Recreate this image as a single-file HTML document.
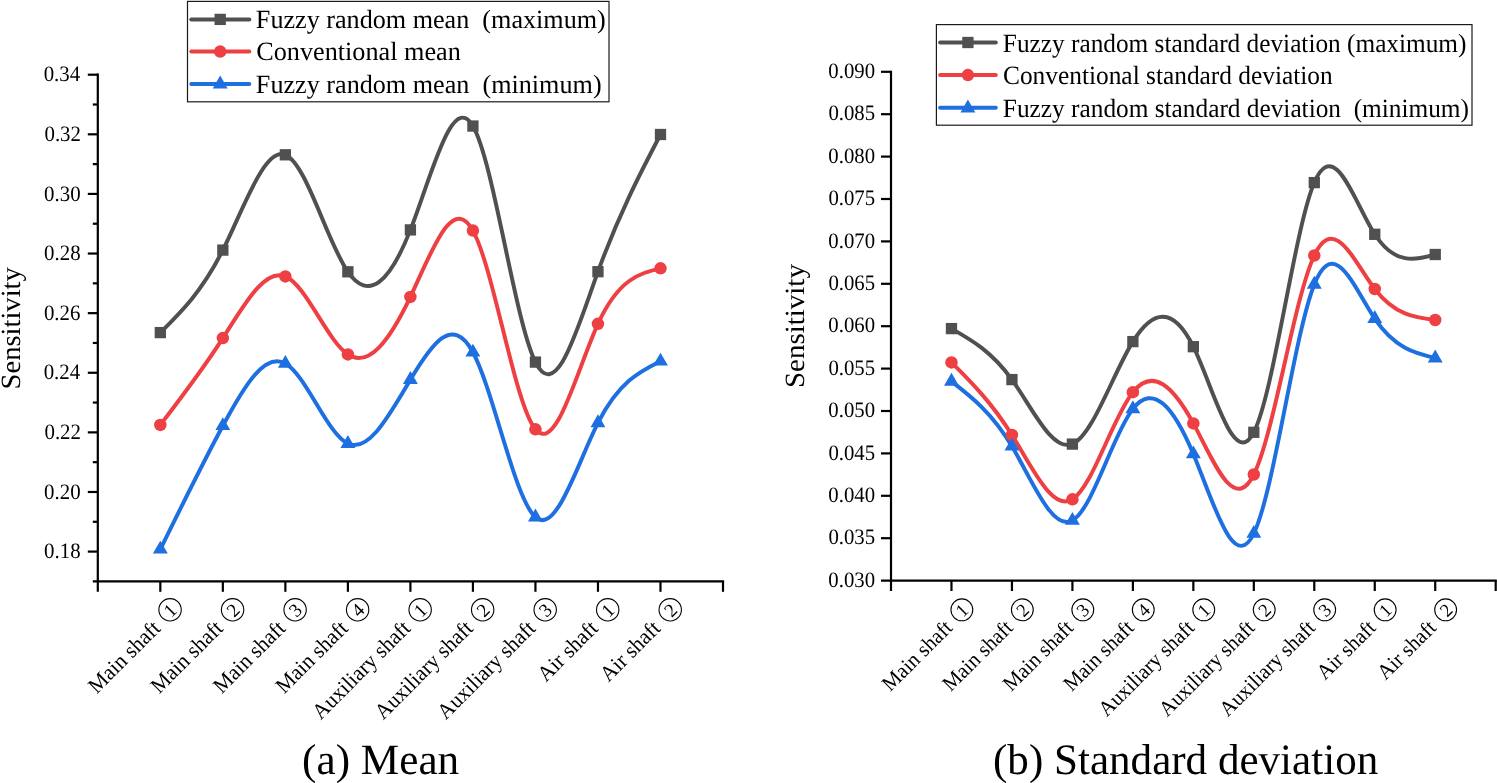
<!DOCTYPE html>
<html><head><meta charset="utf-8"><style>
html,body{margin:0;padding:0;background:#fff;overflow:hidden;}
svg{display:block;will-change:transform;}
text{font-family:"Liberation Serif",serif;fill:#000;font-kerning:none;text-rendering:geometricPrecision;}

</style></head><body>
<svg width="1497" height="783" viewBox="0 0 1497 783">
<line x1="97.80" y1="73.60" x2="97.80" y2="591.80" stroke="#000" stroke-width="2.2"/>
<line x1="92.80" y1="581.40" x2="724.10" y2="581.40" stroke="#000" stroke-width="2.2"/>
<line x1="160.32" y1="581.40" x2="160.32" y2="591.80" stroke="#000" stroke-width="2.2"/>
<line x1="222.84" y1="581.40" x2="222.84" y2="591.80" stroke="#000" stroke-width="2.2"/>
<line x1="285.36" y1="581.40" x2="285.36" y2="591.80" stroke="#000" stroke-width="2.2"/>
<line x1="347.88" y1="581.40" x2="347.88" y2="591.80" stroke="#000" stroke-width="2.2"/>
<line x1="410.40" y1="581.40" x2="410.40" y2="591.80" stroke="#000" stroke-width="2.2"/>
<line x1="472.92" y1="581.40" x2="472.92" y2="591.80" stroke="#000" stroke-width="2.2"/>
<line x1="535.44" y1="581.40" x2="535.44" y2="591.80" stroke="#000" stroke-width="2.2"/>
<line x1="597.96" y1="581.40" x2="597.96" y2="591.80" stroke="#000" stroke-width="2.2"/>
<line x1="660.48" y1="581.40" x2="660.48" y2="591.80" stroke="#000" stroke-width="2.2"/>
<line x1="723.00" y1="581.40" x2="723.00" y2="591.80" stroke="#000" stroke-width="2.2"/>
<line x1="87.80" y1="551.59" x2="97.80" y2="551.59" stroke="#000" stroke-width="2.2"/>
<line x1="87.80" y1="491.98" x2="97.80" y2="491.98" stroke="#000" stroke-width="2.2"/>
<line x1="87.80" y1="432.37" x2="97.80" y2="432.37" stroke="#000" stroke-width="2.2"/>
<line x1="87.80" y1="372.76" x2="97.80" y2="372.76" stroke="#000" stroke-width="2.2"/>
<line x1="87.80" y1="313.15" x2="97.80" y2="313.15" stroke="#000" stroke-width="2.2"/>
<line x1="87.80" y1="253.54" x2="97.80" y2="253.54" stroke="#000" stroke-width="2.2"/>
<line x1="87.80" y1="193.92" x2="97.80" y2="193.92" stroke="#000" stroke-width="2.2"/>
<line x1="87.80" y1="134.31" x2="97.80" y2="134.31" stroke="#000" stroke-width="2.2"/>
<line x1="87.80" y1="74.70" x2="97.80" y2="74.70" stroke="#000" stroke-width="2.2"/>
<line x1="92.80" y1="521.79" x2="97.80" y2="521.79" stroke="#000" stroke-width="2.2"/>
<line x1="92.80" y1="462.18" x2="97.80" y2="462.18" stroke="#000" stroke-width="2.2"/>
<line x1="92.80" y1="402.56" x2="97.80" y2="402.56" stroke="#000" stroke-width="2.2"/>
<line x1="92.80" y1="342.95" x2="97.80" y2="342.95" stroke="#000" stroke-width="2.2"/>
<line x1="92.80" y1="283.34" x2="97.80" y2="283.34" stroke="#000" stroke-width="2.2"/>
<line x1="92.80" y1="223.73" x2="97.80" y2="223.73" stroke="#000" stroke-width="2.2"/>
<line x1="92.80" y1="164.12" x2="97.80" y2="164.12" stroke="#000" stroke-width="2.2"/>
<line x1="92.80" y1="104.51" x2="97.80" y2="104.51" stroke="#000" stroke-width="2.2"/>
<line x1="891.00" y1="70.70" x2="891.00" y2="591.00" stroke="#000" stroke-width="2.2"/>
<line x1="881.00" y1="580.60" x2="1496.80" y2="580.60" stroke="#000" stroke-width="2.2"/>
<line x1="951.47" y1="580.60" x2="951.47" y2="591.00" stroke="#000" stroke-width="2.2"/>
<line x1="1011.94" y1="580.60" x2="1011.94" y2="591.00" stroke="#000" stroke-width="2.2"/>
<line x1="1072.41" y1="580.60" x2="1072.41" y2="591.00" stroke="#000" stroke-width="2.2"/>
<line x1="1132.88" y1="580.60" x2="1132.88" y2="591.00" stroke="#000" stroke-width="2.2"/>
<line x1="1193.35" y1="580.60" x2="1193.35" y2="591.00" stroke="#000" stroke-width="2.2"/>
<line x1="1253.82" y1="580.60" x2="1253.82" y2="591.00" stroke="#000" stroke-width="2.2"/>
<line x1="1314.29" y1="580.60" x2="1314.29" y2="591.00" stroke="#000" stroke-width="2.2"/>
<line x1="1374.76" y1="580.60" x2="1374.76" y2="591.00" stroke="#000" stroke-width="2.2"/>
<line x1="1435.23" y1="580.60" x2="1435.23" y2="591.00" stroke="#000" stroke-width="2.2"/>
<line x1="1495.70" y1="580.60" x2="1495.70" y2="591.00" stroke="#000" stroke-width="2.2"/>
<line x1="881.00" y1="538.20" x2="891.00" y2="538.20" stroke="#000" stroke-width="2.2"/>
<line x1="881.00" y1="495.80" x2="891.00" y2="495.80" stroke="#000" stroke-width="2.2"/>
<line x1="881.00" y1="453.40" x2="891.00" y2="453.40" stroke="#000" stroke-width="2.2"/>
<line x1="881.00" y1="411.00" x2="891.00" y2="411.00" stroke="#000" stroke-width="2.2"/>
<line x1="881.00" y1="368.60" x2="891.00" y2="368.60" stroke="#000" stroke-width="2.2"/>
<line x1="881.00" y1="326.20" x2="891.00" y2="326.20" stroke="#000" stroke-width="2.2"/>
<line x1="881.00" y1="283.80" x2="891.00" y2="283.80" stroke="#000" stroke-width="2.2"/>
<line x1="881.00" y1="241.40" x2="891.00" y2="241.40" stroke="#000" stroke-width="2.2"/>
<line x1="881.00" y1="199.00" x2="891.00" y2="199.00" stroke="#000" stroke-width="2.2"/>
<line x1="881.00" y1="156.60" x2="891.00" y2="156.60" stroke="#000" stroke-width="2.2"/>
<line x1="881.00" y1="114.20" x2="891.00" y2="114.20" stroke="#000" stroke-width="2.2"/>
<line x1="881.00" y1="71.80" x2="891.00" y2="71.80" stroke="#000" stroke-width="2.2"/>
<text transform="translate(44.10,558.22) scale(0.9480,1)" font-size="22">0.18</text>
<text transform="translate(44.10,498.61) scale(0.9480,1)" font-size="22">0.20</text>
<text transform="translate(44.45,439.00) scale(0.9480,1)" font-size="22">0.22</text>
<text transform="translate(43.63,379.39) scale(0.9480,1)" font-size="22">0.24</text>
<text transform="translate(43.92,319.78) scale(0.9480,1)" font-size="22">0.26</text>
<text transform="translate(44.10,260.17) scale(0.9480,1)" font-size="22">0.28</text>
<text transform="translate(44.10,200.55) scale(0.9480,1)" font-size="22">0.30</text>
<text transform="translate(44.45,140.94) scale(0.9480,1)" font-size="22">0.32</text>
<text transform="translate(43.63,81.33) scale(0.9480,1)" font-size="22">0.34</text>
<text transform="translate(828.36,586.73) scale(0.9420,1)" font-size="22">0.030</text>
<text transform="translate(828.38,544.33) scale(0.9420,1)" font-size="22">0.035</text>
<text transform="translate(828.36,501.93) scale(0.9420,1)" font-size="22">0.040</text>
<text transform="translate(828.38,459.53) scale(0.9420,1)" font-size="22">0.045</text>
<text transform="translate(828.36,417.13) scale(0.9420,1)" font-size="22">0.050</text>
<text transform="translate(828.38,374.73) scale(0.9420,1)" font-size="22">0.055</text>
<text transform="translate(828.36,332.33) scale(0.9420,1)" font-size="22">0.060</text>
<text transform="translate(828.38,289.93) scale(0.9420,1)" font-size="22">0.065</text>
<text transform="translate(828.36,247.53) scale(0.9420,1)" font-size="22">0.070</text>
<text transform="translate(828.38,205.13) scale(0.9420,1)" font-size="22">0.075</text>
<text transform="translate(828.36,162.73) scale(0.9420,1)" font-size="22">0.080</text>
<text transform="translate(828.38,120.33) scale(0.9420,1)" font-size="22">0.085</text>
<text transform="translate(828.36,77.93) scale(0.9420,1)" font-size="22">0.090</text>
<path d="M160.32,332.60 C181.16,312.04 202.00,291.48 222.84,250.10 C243.68,208.72 264.52,146.51 285.36,154.80 C306.20,163.09 327.04,241.88 347.88,271.80 C368.72,301.72 389.56,282.77 410.40,229.90 C431.24,177.03 452.08,90.23 472.92,126.05 C493.76,161.87 514.60,320.30 535.44,362.10 C556.28,403.90 577.12,329.07 597.96,271.70 C618.80,214.33 639.64,174.41 660.48,134.50" fill="none" stroke="#505050" stroke-width="3.95" stroke-linecap="round"/>
<path d="M160.32,424.90 C181.16,397.76 202.00,370.62 222.84,338.10 C243.68,305.58 264.52,267.67 285.36,276.40 C306.20,285.13 327.04,340.49 347.88,354.40 C368.72,368.31 389.56,340.77 410.40,296.90 C431.24,253.03 452.08,192.83 472.92,230.60 C493.76,268.37 514.60,404.13 535.44,429.30 C556.28,454.47 577.12,369.06 597.96,323.80 C618.80,278.54 639.64,273.42 660.48,268.30" fill="none" stroke="#ee3f43" stroke-width="3.95" stroke-linecap="round"/>
<path d="M160.32,549.30 C181.16,506.94 202.00,464.58 222.84,425.80 C243.68,387.02 264.52,351.82 285.36,363.50 C306.20,375.18 327.04,433.74 347.88,443.60 C368.72,453.46 389.56,414.63 410.40,379.70 C431.24,344.77 452.08,313.76 472.92,352.30 C493.76,390.84 514.60,498.95 535.44,517.20 C556.28,535.45 577.12,463.86 597.96,422.90 C618.80,381.94 639.64,371.62 660.48,361.30" fill="none" stroke="#1e6fe0" stroke-width="3.95" stroke-linecap="round"/>
<path d="M951.47,328.60 C971.63,340.04 991.78,351.48 1011.94,379.60 C1032.10,407.72 1052.25,452.53 1072.41,444.10 C1092.57,435.67 1112.72,373.99 1132.88,341.60 C1153.04,309.21 1173.19,306.10 1193.35,346.70 C1213.51,387.30 1233.66,471.60 1253.82,432.30 C1273.98,393.00 1294.13,230.08 1314.29,182.60 C1334.45,135.12 1354.60,203.08 1374.76,234.30 C1394.92,265.52 1415.07,260.01 1435.23,254.50" fill="none" stroke="#505050" stroke-width="3.95" stroke-linecap="round"/>
<path d="M951.47,362.40 C971.63,382.54 991.78,402.68 1011.94,435.00 C1032.10,467.32 1052.25,511.81 1072.41,499.30 C1092.57,486.79 1112.72,417.29 1132.88,392.20 C1153.04,367.11 1173.19,386.42 1193.35,423.40 C1213.51,460.38 1233.66,515.02 1253.82,474.50 C1273.98,433.98 1294.13,298.30 1314.29,255.50 C1334.45,212.70 1354.60,262.77 1374.76,289.00 C1394.92,315.23 1415.07,317.61 1435.23,320.00" fill="none" stroke="#ee3f43" stroke-width="3.95" stroke-linecap="round"/>
<path d="M951.47,381.40 C971.63,397.00 991.78,412.59 1011.94,446.30 C1032.10,480.01 1052.25,531.83 1072.41,520.50 C1092.57,509.17 1112.72,434.70 1132.88,408.90 C1153.04,383.10 1173.19,405.97 1193.35,454.00 C1213.51,502.03 1233.66,575.22 1253.82,533.50 C1273.98,491.78 1294.13,335.15 1314.29,284.40 C1334.45,233.65 1354.60,288.77 1374.76,318.70 C1394.92,348.63 1415.07,353.36 1435.23,358.10" fill="none" stroke="#1e6fe0" stroke-width="3.95" stroke-linecap="round"/>
<rect x="154.67" y="326.95" width="11.3" height="11.3" fill="#505050"/>
<rect x="217.19" y="244.45" width="11.3" height="11.3" fill="#505050"/>
<rect x="279.71" y="149.15" width="11.3" height="11.3" fill="#505050"/>
<rect x="342.23" y="266.15" width="11.3" height="11.3" fill="#505050"/>
<rect x="404.75" y="224.25" width="11.3" height="11.3" fill="#505050"/>
<rect x="467.27" y="120.40" width="11.3" height="11.3" fill="#505050"/>
<rect x="529.79" y="356.45" width="11.3" height="11.3" fill="#505050"/>
<rect x="592.31" y="266.05" width="11.3" height="11.3" fill="#505050"/>
<rect x="654.83" y="128.85" width="11.3" height="11.3" fill="#505050"/>
<rect x="945.82" y="322.95" width="11.3" height="11.3" fill="#505050"/>
<rect x="1006.29" y="373.95" width="11.3" height="11.3" fill="#505050"/>
<rect x="1066.76" y="438.45" width="11.3" height="11.3" fill="#505050"/>
<rect x="1127.23" y="335.95" width="11.3" height="11.3" fill="#505050"/>
<rect x="1187.70" y="341.05" width="11.3" height="11.3" fill="#505050"/>
<rect x="1248.17" y="426.65" width="11.3" height="11.3" fill="#505050"/>
<rect x="1308.64" y="176.95" width="11.3" height="11.3" fill="#505050"/>
<rect x="1369.11" y="228.65" width="11.3" height="11.3" fill="#505050"/>
<rect x="1429.58" y="248.85" width="11.3" height="11.3" fill="#505050"/>
<circle cx="160.32" cy="424.90" r="6.25" fill="#ee3f43"/>
<circle cx="222.84" cy="338.10" r="6.25" fill="#ee3f43"/>
<circle cx="285.36" cy="276.40" r="6.25" fill="#ee3f43"/>
<circle cx="347.88" cy="354.40" r="6.25" fill="#ee3f43"/>
<circle cx="410.40" cy="296.90" r="6.25" fill="#ee3f43"/>
<circle cx="472.92" cy="230.60" r="6.25" fill="#ee3f43"/>
<circle cx="535.44" cy="429.30" r="6.25" fill="#ee3f43"/>
<circle cx="597.96" cy="323.80" r="6.25" fill="#ee3f43"/>
<circle cx="660.48" cy="268.30" r="6.25" fill="#ee3f43"/>
<circle cx="951.47" cy="362.40" r="6.25" fill="#ee3f43"/>
<circle cx="1011.94" cy="435.00" r="6.25" fill="#ee3f43"/>
<circle cx="1072.41" cy="499.30" r="6.25" fill="#ee3f43"/>
<circle cx="1132.88" cy="392.20" r="6.25" fill="#ee3f43"/>
<circle cx="1193.35" cy="423.40" r="6.25" fill="#ee3f43"/>
<circle cx="1253.82" cy="474.50" r="6.25" fill="#ee3f43"/>
<circle cx="1314.29" cy="255.50" r="6.25" fill="#ee3f43"/>
<circle cx="1374.76" cy="289.00" r="6.25" fill="#ee3f43"/>
<circle cx="1435.23" cy="320.00" r="6.25" fill="#ee3f43"/>
<polygon points="160.32,540.70 167.77,553.60 152.87,553.60" fill="#1e6fe0"/>
<polygon points="222.84,417.20 230.29,430.10 215.39,430.10" fill="#1e6fe0"/>
<polygon points="285.36,354.90 292.81,367.80 277.91,367.80" fill="#1e6fe0"/>
<polygon points="347.88,435.00 355.33,447.90 340.43,447.90" fill="#1e6fe0"/>
<polygon points="410.40,371.10 417.85,384.00 402.95,384.00" fill="#1e6fe0"/>
<polygon points="472.92,343.70 480.37,356.60 465.47,356.60" fill="#1e6fe0"/>
<polygon points="535.44,508.60 542.89,521.50 527.99,521.50" fill="#1e6fe0"/>
<polygon points="597.96,414.30 605.41,427.20 590.51,427.20" fill="#1e6fe0"/>
<polygon points="660.48,352.70 667.93,365.60 653.03,365.60" fill="#1e6fe0"/>
<polygon points="951.47,372.80 958.92,385.70 944.02,385.70" fill="#1e6fe0"/>
<polygon points="1011.94,437.70 1019.39,450.60 1004.49,450.60" fill="#1e6fe0"/>
<polygon points="1072.41,511.90 1079.86,524.80 1064.96,524.80" fill="#1e6fe0"/>
<polygon points="1132.88,400.30 1140.33,413.20 1125.43,413.20" fill="#1e6fe0"/>
<polygon points="1193.35,445.40 1200.80,458.30 1185.90,458.30" fill="#1e6fe0"/>
<polygon points="1253.82,524.90 1261.27,537.80 1246.37,537.80" fill="#1e6fe0"/>
<polygon points="1314.29,275.80 1321.74,288.70 1306.84,288.70" fill="#1e6fe0"/>
<polygon points="1374.76,310.10 1382.21,323.00 1367.31,323.00" fill="#1e6fe0"/>
<polygon points="1435.23,349.50 1442.68,362.40 1427.78,362.40" fill="#1e6fe0"/>
<rect x="187.50" y="1.40" width="421.50" height="100.40" fill="none" stroke="#1a1a1a" stroke-width="1.2"/>
<line x1="191.30" y1="19.40" x2="249.30" y2="19.40" stroke="#505050" stroke-width="4.0" stroke-linecap="round"/>
<rect x="214.55" y="13.75" width="11.3" height="11.3" fill="#505050"/>
<text transform="translate(255.85,27.80) scale(0.9942,1)" font-size="26.3">Fuzzy random mean  (maximum)</text>
<line x1="191.30" y1="51.60" x2="249.30" y2="51.60" stroke="#ee3f43" stroke-width="4.0" stroke-linecap="round"/>
<circle cx="220.20" cy="51.60" r="6.25" fill="#ee3f43"/>
<text transform="translate(256.22,60.40) scale(0.9968,1)" font-size="26.3">Conventional mean</text>
<line x1="191.30" y1="83.90" x2="249.30" y2="83.90" stroke="#1e6fe0" stroke-width="4.0" stroke-linecap="round"/>
<polygon points="220.20,75.60 227.65,88.50 212.75,88.50" fill="#1e6fe0"/>
<text transform="translate(255.85,92.60) scale(0.9946,1)" font-size="26.3">Fuzzy random mean  (minimum)</text>
<rect x="936.40" y="24.60" width="535.60" height="100.60" fill="none" stroke="#1a1a1a" stroke-width="1.2"/>
<line x1="940.10" y1="42.50" x2="995.80" y2="42.50" stroke="#505050" stroke-width="4.0" stroke-linecap="round"/>
<rect x="962.25" y="36.85" width="11.3" height="11.3" fill="#505050"/>
<text transform="translate(1002.87,51.80) scale(0.9618,1)" font-size="26.3">Fuzzy random standard deviation (maximum)</text>
<line x1="940.10" y1="75.10" x2="995.80" y2="75.10" stroke="#ee3f43" stroke-width="4.0" stroke-linecap="round"/>
<circle cx="967.90" cy="75.10" r="6.25" fill="#ee3f43"/>
<text transform="translate(1002.96,84.10) scale(0.9649,1)" font-size="26.3">Conventional standard deviation</text>
<line x1="940.10" y1="107.80" x2="995.80" y2="107.80" stroke="#1e6fe0" stroke-width="4.0" stroke-linecap="round"/>
<polygon points="967.90,99.50 975.35,112.40 960.45,112.40" fill="#1e6fe0"/>
<text transform="translate(1002.87,117.00) scale(0.9626,1)" font-size="26.3">Fuzzy random standard deviation  (minimum)</text>
<text transform="translate(19.50,389.41) rotate(-90) scale(1.0276,1)" font-size="27.8">Sensitivity</text>
<text transform="translate(803.50,388.04) rotate(-90) scale(1.0422,1)" font-size="27.8">Sensitivity</text>
<g transform="translate(170.07,609.80) rotate(-45) scale(1.0)"><text transform="translate(-111.74,7.9) scale(0.97,1)" font-size="22" class="xb">Main shaft</text><circle cx="0" cy="0" r="11.2" fill="none" stroke="#000" stroke-width="1.1"/><text x="-5.01" y="6.77" font-size="19">1</text></g>
<g transform="translate(232.59,609.80) rotate(-45) scale(1.0)"><text transform="translate(-111.74,7.9) scale(0.97,1)" font-size="22" class="xb">Main shaft</text><circle cx="0" cy="0" r="11.2" fill="none" stroke="#000" stroke-width="1.1"/><text x="-4.64" y="6.79" font-size="19">2</text></g>
<g transform="translate(295.11,609.80) rotate(-45) scale(1.0)"><text transform="translate(-111.74,7.9) scale(0.97,1)" font-size="22" class="xb">Main shaft</text><circle cx="0" cy="0" r="11.2" fill="none" stroke="#000" stroke-width="1.1"/><text x="-4.83" y="6.70" font-size="19">3</text></g>
<g transform="translate(357.63,609.80) rotate(-45) scale(1.0)"><text transform="translate(-111.74,7.9) scale(0.97,1)" font-size="22" class="xb">Main shaft</text><circle cx="0" cy="0" r="11.2" fill="none" stroke="#000" stroke-width="1.1"/><text x="-4.79" y="6.75" font-size="19">4</text></g>
<g transform="translate(420.15,609.80) rotate(-45) scale(1.0)"><text transform="translate(-148.48,7.9) scale(0.97,1)" font-size="22" class="xb">Auxiliary shaft</text><circle cx="0" cy="0" r="11.2" fill="none" stroke="#000" stroke-width="1.1"/><text x="-5.01" y="6.77" font-size="19">1</text></g>
<g transform="translate(482.67,609.80) rotate(-45) scale(1.0)"><text transform="translate(-148.48,7.9) scale(0.97,1)" font-size="22" class="xb">Auxiliary shaft</text><circle cx="0" cy="0" r="11.2" fill="none" stroke="#000" stroke-width="1.1"/><text x="-4.64" y="6.79" font-size="19">2</text></g>
<g transform="translate(545.19,609.80) rotate(-45) scale(1.0)"><text transform="translate(-148.48,7.9) scale(0.97,1)" font-size="22" class="xb">Auxiliary shaft</text><circle cx="0" cy="0" r="11.2" fill="none" stroke="#000" stroke-width="1.1"/><text x="-4.83" y="6.70" font-size="19">3</text></g>
<g transform="translate(607.71,609.80) rotate(-45) scale(1.0)"><text transform="translate(-95.14,7.9) scale(0.97,1)" font-size="22" class="xb">Air shaft</text><circle cx="0" cy="0" r="11.2" fill="none" stroke="#000" stroke-width="1.1"/><text x="-5.01" y="6.77" font-size="19">1</text></g>
<g transform="translate(670.23,609.80) rotate(-45) scale(1.0)"><text transform="translate(-95.14,7.9) scale(0.97,1)" font-size="22" class="xb">Air shaft</text><circle cx="0" cy="0" r="11.2" fill="none" stroke="#000" stroke-width="1.1"/><text x="-4.64" y="6.79" font-size="19">2</text></g>
<g transform="translate(961.87,609.80) rotate(-45) scale(0.975)"><text transform="translate(-111.74,7.9) scale(0.97,1)" font-size="22" class="xb">Main shaft</text><circle cx="0" cy="0" r="11.2" fill="none" stroke="#000" stroke-width="1.1"/><text x="-5.01" y="6.77" font-size="19">1</text></g>
<g transform="translate(1022.34,609.80) rotate(-45) scale(0.975)"><text transform="translate(-111.74,7.9) scale(0.97,1)" font-size="22" class="xb">Main shaft</text><circle cx="0" cy="0" r="11.2" fill="none" stroke="#000" stroke-width="1.1"/><text x="-4.64" y="6.79" font-size="19">2</text></g>
<g transform="translate(1082.81,609.80) rotate(-45) scale(0.975)"><text transform="translate(-111.74,7.9) scale(0.97,1)" font-size="22" class="xb">Main shaft</text><circle cx="0" cy="0" r="11.2" fill="none" stroke="#000" stroke-width="1.1"/><text x="-4.83" y="6.70" font-size="19">3</text></g>
<g transform="translate(1143.28,609.80) rotate(-45) scale(0.975)"><text transform="translate(-111.74,7.9) scale(0.97,1)" font-size="22" class="xb">Main shaft</text><circle cx="0" cy="0" r="11.2" fill="none" stroke="#000" stroke-width="1.1"/><text x="-4.79" y="6.75" font-size="19">4</text></g>
<g transform="translate(1203.75,609.80) rotate(-45) scale(0.975)"><text transform="translate(-148.48,7.9) scale(0.97,1)" font-size="22" class="xb">Auxiliary shaft</text><circle cx="0" cy="0" r="11.2" fill="none" stroke="#000" stroke-width="1.1"/><text x="-5.01" y="6.77" font-size="19">1</text></g>
<g transform="translate(1264.22,609.80) rotate(-45) scale(0.975)"><text transform="translate(-148.48,7.9) scale(0.97,1)" font-size="22" class="xb">Auxiliary shaft</text><circle cx="0" cy="0" r="11.2" fill="none" stroke="#000" stroke-width="1.1"/><text x="-4.64" y="6.79" font-size="19">2</text></g>
<g transform="translate(1324.69,609.80) rotate(-45) scale(0.975)"><text transform="translate(-148.48,7.9) scale(0.97,1)" font-size="22" class="xb">Auxiliary shaft</text><circle cx="0" cy="0" r="11.2" fill="none" stroke="#000" stroke-width="1.1"/><text x="-4.83" y="6.70" font-size="19">3</text></g>
<g transform="translate(1385.16,609.80) rotate(-45) scale(0.975)"><text transform="translate(-95.14,7.9) scale(0.97,1)" font-size="22" class="xb">Air shaft</text><circle cx="0" cy="0" r="11.2" fill="none" stroke="#000" stroke-width="1.1"/><text x="-5.01" y="6.77" font-size="19">1</text></g>
<g transform="translate(1445.63,609.80) rotate(-45) scale(0.975)"><text transform="translate(-95.14,7.9) scale(0.97,1)" font-size="22" class="xb">Air shaft</text><circle cx="0" cy="0" r="11.2" fill="none" stroke="#000" stroke-width="1.1"/><text x="-4.64" y="6.79" font-size="19">2</text></g>
<text transform="translate(302.10,773.60) scale(0.9973,1)" font-size="43.3">(a) Mean</text>
<text transform="translate(993.01,773.80) scale(0.9950,1)" font-size="43.3">(b) Standard deviation</text>
</svg></body></html>
